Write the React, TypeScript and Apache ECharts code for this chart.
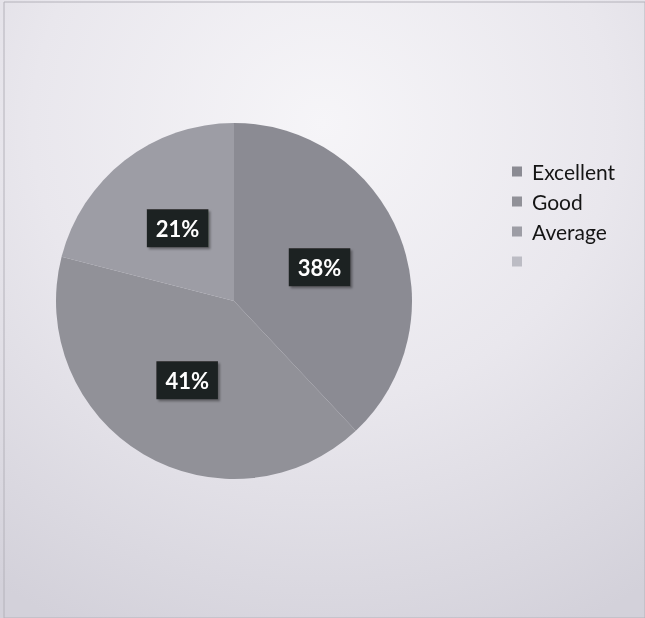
import React, { useEffect, useRef } from "react";
import * as echarts from "echarts";

const categories = ["Excellent", "Good", "Average", "\u00a0"];
const values = [38, 41, 21, 0];
const sliceColors = ["#8b8b93", "#919198", "#9d9da5", "#bcbcc4"];

export default function App() {
  const ref = useRef<HTMLDivElement>(null);
  useEffect(() => {
    if (!ref.current) return;
    const chart = echarts.init(ref.current, null, { renderer: "svg" });
    chart.setOption({
      animation: false,
      backgroundColor: {
        type: "radial",
        x: 0.5,
        y: 0.2,
        r: 0.9,
        colorStops: [
          { offset: 0, color: "#f6f5f8" },
          { offset: 0.5, color: "#e9e7ed" },
          { offset: 1, color: "#d3d1da" },
        ],
      },
      legend: {
        orient: "vertical",
        left: 507,
        top: 156,
        icon: "rect",
        itemWidth: 10,
        itemHeight: 10,
        itemGap: 9,
        selectedMode: false,
        textStyle: { fontFamily: "Lato", fontSize: 21, color: "#151515", padding: [0, 0, 0, 5] },
        data: categories,
      },
      series: [
        {
          type: "pie",
          center: [234, 301],
          radius: 178,
          startAngle: 90,
          clockwise: true,
          avoidLabelOverlap: false,
          itemStyle: { borderWidth: 0 },
          label: {
            show: true,
            position: "inside",
            formatter: "{d}%",
            fontFamily: "Lato",
            fontWeight: "bold",
            fontSize: 22,
            color: "#ffffff",
            backgroundColor: "#1f2221",
            padding: [9, 9, 7, 9],
            shadowColor: "rgba(0,0,0,0.35)",
            shadowOffsetX: 2,
            shadowOffsetY: 2,
            shadowBlur: 2,
          },
          labelLine: { show: false },
          emphasis: { disabled: true },
          data: categories.map((name, i) => ({
            name,
            value: values[i],
            itemStyle: { color: sliceColors[i] },
            label: values[i] === 0 ? { show: false } : undefined,
          })),
        },
      ],
      graphic: [
        {
          type: "rect",
          shape: { x: 4, y: 2, width: 641, height: 616 },
          style: { fill: "none", stroke: "#b4b2ba", lineWidth: 1 },
          silent: true,
        },
      ],
    });
    return () => chart.dispose();
  }, []);
  return (
    <div
      ref={ref}
      style={{ position: "fixed", left: 0, top: 0, width: 645, height: 618 }}
    />
  );
}
